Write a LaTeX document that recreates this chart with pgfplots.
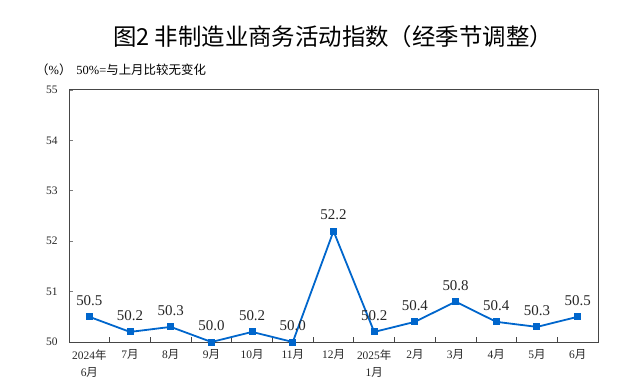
\documentclass[border=0pt]{standalone}
\usepackage{fontspec}
\setmainfont{Liberation Serif}
\newfontfamily\cjk{Noto Sans CJK SC}
\usepackage{pgfplots}
\pgfplotsset{compat=1.18}
\definecolor{lineblue}{RGB}{0,102,204}
\definecolor{axgray}{RGB}{70,70,70}
\begin{document}
\begin{tikzpicture}[x=1bp,y=1bp]
\useasboundingbox (0,0) rectangle (634,390);
\node[anchor=center,font=\cjk\fontsize{23.5}{26}\selectfont] at (333,353) {图2 非制造业商务活动指数（经季节调整）};
\node[anchor=west,font=\fontsize{12.5}{14}\selectfont,inner sep=0] at (36,320) {{\cjk（}\%{\cjk）}\hspace{5bp}50\%={\cjk 与上月比较无变化}};
\begin{axis}[
  at={(69bp,48bp)}, anchor=south west, scale only axis,
  width=529bp, height=252bp,
  xmin=-0.5, xmax=12.5, ymin=50, ymax=55,
  ytick={50,51,52,53,54,55},
  xtick={0,...,12},
  xticklabels={{2024{\cjk 年}\\6{\cjk 月}},{7{\cjk 月}},{8{\cjk 月}},{9{\cjk 月}},{10{\cjk 月}},{11{\cjk 月}},{12{\cjk 月}},{2025{\cjk 年}\\1{\cjk 月}},{2{\cjk 月}},{3{\cjk 月}},{4{\cjk 月}},{5{\cjk 月}},{6{\cjk 月}}},
  minor xtick={0.5,1.5,...,11.5},
  major x tick style={draw=none},
  minor x tick style={axgray, line width=0.8bp},
  minor tick length=5bp,
  major tick length=4bp,
  y tick style={axgray!70, line width=0.8bp},
  tick align=inside,
  xtick pos=bottom, ytick pos=left,
  axis line style={axgray, line width=1bp},
  tick label style={font=\fontsize{11.5}{17}\selectfont, text=black!85},
  xticklabel style={align=center, anchor=north, yshift=-4bp},
  yticklabel style={xshift=-8bp},
  /pgf/number format/assume math mode=true,
  nodes near coords,
  nodes near coords style={font=\fontsize{15}{17}\selectfont, anchor=south, yshift=7bp, text=black!85,
    /pgf/number format/.cd, fixed, fixed zerofill, precision=1},
  clip=false,
]
\addplot[color=lineblue, line width=1.8bp, mark=square*, mark size=2.6bp, mark options={fill=lineblue}]
coordinates {(0,50.5) (1,50.2) (2,50.3) (3,50.0) (4,50.2) (5,50.0) (6,52.2) (7,50.2) (8,50.4) (9,50.8) (10,50.4) (11,50.3) (12,50.5)};
\end{axis}
\end{tikzpicture}
\end{document}
